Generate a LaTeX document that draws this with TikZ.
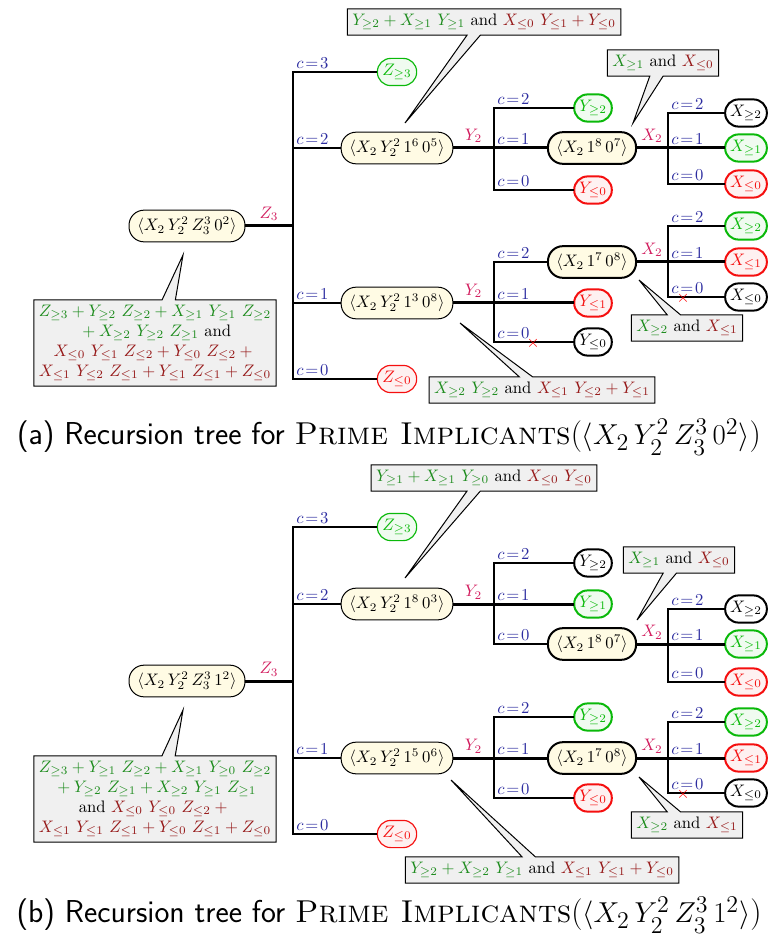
\documentclass[tikz,border=0pt]{standalone}
\usepackage{amsmath,amssymb}
\usepackage{tikz}
\usetikzlibrary{calc,shapes.callouts}

\definecolor{termyes}{RGB}{30,140,30}
\definecolor{termno}{RGB}{150,25,25}
\definecolor{leafyes}{RGB}{10,185,10}
\definecolor{leafno}{RGB}{245,15,15}
\definecolor{casecol}{RGB}{45,45,160}
\definecolor{varcol}{RGB}{210,30,95}
\definecolor{cream}{RGB}{255,251,228}

\newcommand{\ytrm}[1]{\textcolor{termyes}{$#1$}}
\newcommand{\ntrm}[1]{\textcolor{termno}{$#1$}}

\begin{document}
\begin{tikzpicture}[x=0.6pt,y=-0.6pt,
    every node/.style={outer sep=0pt},
    state/.style={draw,fill=cream,rounded corners=9pt,minimum height=19pt,inner xsep=5pt,line width=0.6pt},
    state2/.style={state,line width=1.2pt},
    leaf/.style={draw,fill=white,rounded corners=8pt,minimum height=16pt,inner xsep=3pt,line width=1.2pt},
    zleaf/.style={leaf,line width=0.7pt},
    ok/.style={draw=leafyes,fill=leafyes!6,text=leafyes},
    bad/.style={draw=leafno,fill=leafno!6,text=leafno},
    trunk/.style={line width=1.8pt},
    branch/.style={line width=1.2pt},
    clab/.style={anchor=south west,inner sep=2pt,text=casecol},
    vlab/.style={above,inner sep=3pt,text=varcol},
    note/.style={rectangle callout,draw,fill=gray!12,line width=0.6pt,inner sep=3pt,
                 callout pointer width=8pt,align=center},
    cut/.style={text=red,inner sep=0pt}]
\useasboundingbox (0,0) rectangle (779,942);

% (a) tree
\node[state] (ra) at (187,226) {$\langle X_2\,Y_2^2\,Z_3^3\,0^2\rangle$};
\node[zleaf,ok] (ra3) at (397,72) {$Z_{\geq 3}$};
\node[state] (ra2) at (397,148) {$\langle X_2\,Y_2^2\,1^6\,0^5\rangle$};
\node[state] (ra1) at (397,303) {$\langle X_2\,Y_2^2\,1^3\,0^8\rangle$};
\node[zleaf,bad] (ra0) at (397,379) {$Z_{\leq 0}$};
\node[leaf,ok] (ra22) at (593,108) {$Y_{\geq 2}$};
\node[state2] (ra21) at (592,148) {$\langle X_2\,1^8\,0^7\rangle$};
\node[leaf,bad] (ra20) at (593,190) {$Y_{\leq 0}$};
\node[leaf] (ra212) at (746,113) {$X_{\geq 2}$};
\node[leaf,ok] (ra211) at (746,148) {$X_{\geq 1}$};
\node[leaf,bad] (ra210) at (746,184) {$X_{\leq 0}$};
\node[state2] (ra12) at (592,262) {$\langle X_2\,1^7\,0^8\rangle$};
\node[leaf,bad] (ra11) at (593,303) {$Y_{\leq 1}$};
\node[leaf] (ra10) at (593,342) {$Y_{\leq 0}$};
\node[leaf,ok] (ra122) at (746,226) {$X_{\geq 2}$};
\node[leaf,bad] (ra121) at (746,262) {$X_{\leq 1}$};
\node[leaf] (ra120) at (746,297) {$X_{\leq 0}$};

\coordinate (ja) at (293,226);
\coordinate (ja2) at (494,148);
\coordinate (ja1) at (494,303);
\coordinate (ja21) at (668,148);
\coordinate (ja12) at (668,262);

\draw[trunk] (ra) -- node[vlab]{$Z_3$} (ja);
\foreach \n/\c in {ra3/3,ra2/2,ra1/1,ra0/0}
  \draw[branch] (ja) |- node[clab]{$c\!=\!\c$} (\n.west);
\draw[trunk] (ra2) -- node[vlab]{$Y_2$} (ja2) |- node[clab]{$c\!=\!1$} (ra21.west);
\draw[branch] (ja2) |- node[clab]{$c\!=\!2$} (ra22.west);
\draw[branch] (ja2) |- node[clab]{$c\!=\!0$} (ra20.west);
\draw[trunk] (ra21) -- node[vlab]{$X_2$} (ja21) |- node[clab]{$c\!=\!1$} (ra211.west);
\draw[branch] (ja21) |- node[clab]{$c\!=\!2$} (ra212.west);
\draw[branch] (ja21) |- node[clab]{$c\!=\!0$} (ra210.west);
\draw[trunk] (ra1) -- node[vlab]{$Y_2$} (ja1) |- node[clab]{$c\!=\!1$} (ra11.west);
\draw[branch] (ja1) |- node[clab]{$c\!=\!2$} (ra12.west);
\draw[branch] (ja1) |- node[clab]{$c\!=\!0$} (ra10.west);
\draw[trunk] (ra12) -- node[vlab]{$X_2$} (ja12) |- node[clab]{$c\!=\!1$} (ra121.west);
\draw[branch] (ja12) |- node[clab]{$c\!=\!2$} (ra122.west);
\draw[branch] (ja12) |- node[clab]{$c\!=\!0$} (ra120.west);
\node[cut] (xa10) at (533,343) {$\times$};
\node[cut] (xa120) at (683,298) {$\times$};

\node[note,callout absolute pointer={(405,123)}] (na2) at (484,22)
  {\ytrm{Y_{\geq 2} + X_{\geq 1}\ Y_{\geq 1}} and \ntrm{X_{\leq 0}\ Y_{\leq 1} + Y_{\leq 0}}};
\node[note,callout absolute pointer={(633,123)}] (na21) at (663,63)
  {\ytrm{X_{\geq 1}} and \ntrm{X_{\leq 0}}};
\node[note,callout absolute pointer={(183,255)}] (na) at (155,343)
  {\ytrm{Z_{\geq 3} + Y_{\geq 2}\ Z_{\geq 2} + X_{\geq 1}\ Y_{\geq 1}\ Z_{\geq 2}}\\
   \ytrm{{}+ X_{\geq 2}\ Y_{\geq 2}\ Z_{\geq 1}} and\\
   \ntrm{X_{\leq 0}\ Y_{\leq 1}\ Z_{\leq 2} + Y_{\leq 0}\ Z_{\leq 2} +{}}\\
   \ntrm{X_{\leq 1}\ Y_{\leq 2}\ Z_{\leq 1} + Y_{\leq 1}\ Z_{\leq 1} + Z_{\leq 0}}};
\node[note,callout absolute pointer={(639,280)}] (na12) at (687,328)
  {\ytrm{X_{\geq 2}} and \ntrm{X_{\leq 1}}};
\node[note,callout absolute pointer={(460,323)}] (na1) at (542,390)
  {\ytrm{X_{\geq 2}\ Y_{\geq 2}} and \ntrm{X_{\leq 1}\ Y_{\leq 2} + Y_{\leq 1}}};

\node (capa) at (389,437) {\fontsize{19}{22}\selectfont\sffamily (a) Recursion tree for
  \textnormal{\textsc{Prime Implicants}($\langle X_2\,Y_2^2\,Z_3^3\,0^2\rangle$)}};

% (b) tree
\node[state] (rb) at (187,681) {$\langle X_2\,Y_2^2\,Z_3^3\,1^2\rangle$};
\node[zleaf,ok] (rb3) at (397,527) {$Z_{\geq 3}$};
\node[state] (rb2) at (397,604) {$\langle X_2\,Y_2^2\,1^8\,0^3\rangle$};
\node[state] (rb1) at (397,758) {$\langle X_2\,Y_2^2\,1^5\,0^6\rangle$};
\node[zleaf,bad] (rb0) at (397,834) {$Z_{\leq 0}$};
\node[leaf] (rb22) at (593,563) {$Y_{\geq 2}$};
\node[leaf,ok] (rb21) at (593,604) {$Y_{\geq 1}$};
\node[state2] (rb20) at (592,644) {$\langle X_2\,1^8\,0^7\rangle$};
\node[leaf] (rb202) at (746,609) {$X_{\geq 2}$};
\node[leaf,ok] (rb201) at (746,644) {$X_{\geq 1}$};
\node[leaf,bad] (rb200) at (746,682) {$X_{\leq 0}$};
\node[leaf,ok] (rb12) at (593,717) {$Y_{\geq 2}$};
\node[state2] (rb11) at (592,758) {$\langle X_2\,1^7\,0^8\rangle$};
\node[leaf,bad] (rb10) at (593,798) {$Y_{\leq 0}$};
\node[leaf,ok] (rb112) at (746,722) {$X_{\geq 2}$};
\node[leaf,bad] (rb111) at (746,758) {$X_{\leq 1}$};
\node[leaf] (rb110) at (746,793) {$X_{\leq 0}$};

\coordinate (jb) at (293,681);
\coordinate (jb2) at (494,604);
\coordinate (jb1) at (494,758);
\coordinate (jb20) at (668,644);
\coordinate (jb11) at (668,758);

\draw[trunk] (rb) -- node[vlab]{$Z_3$} (jb);
\foreach \n/\c in {rb3/3,rb2/2,rb1/1,rb0/0}
  \draw[branch] (jb) |- node[clab]{$c\!=\!\c$} (\n.west);
\draw[trunk] (rb2) -- node[vlab]{$Y_2$} (jb2) |- node[clab]{$c\!=\!1$} (rb21.west);
\draw[branch] (jb2) |- node[clab]{$c\!=\!2$} (rb22.west);
\draw[branch] (jb2) |- node[clab]{$c\!=\!0$} (rb20.west);
\draw[trunk] (rb20) -- node[vlab]{$X_2$} (jb20) |- node[clab]{$c\!=\!1$} (rb201.west);
\draw[branch] (jb20) |- node[clab]{$c\!=\!2$} (rb202.west);
\draw[branch] (jb20) |- node[clab]{$c\!=\!0$} (rb200.west);
\draw[trunk] (rb1) -- node[vlab]{$Y_2$} (jb1) |- node[clab]{$c\!=\!1$} (rb11.west);
\draw[branch] (jb1) |- node[clab]{$c\!=\!2$} (rb12.west);
\draw[branch] (jb1) |- node[clab]{$c\!=\!0$} (rb10.west);
\draw[trunk] (rb11) -- node[vlab]{$X_2$} (jb11) |- node[clab]{$c\!=\!1$} (rb111.west);
\draw[branch] (jb11) |- node[clab]{$c\!=\!2$} (rb112.west);
\draw[branch] (jb11) |- node[clab]{$c\!=\!0$} (rb110.west);
\node[cut] (xb110) at (683,794) {$\times$};

\node[note,callout absolute pointer={(405,578)}] (nb2) at (484,478)
  {\ytrm{Y_{\geq 1} + X_{\geq 1}\ Y_{\geq 0}} and \ntrm{X_{\leq 0}\ Y_{\leq 0}}};
\node[note,callout absolute pointer={(637,620)}] (nb20) at (679,560)
  {\ytrm{X_{\geq 1}} and \ntrm{X_{\leq 0}}};
\node[note,callout absolute pointer={(183,710)}] (nb) at (155,799)
  {\ytrm{Z_{\geq 3} + Y_{\geq 1}\ Z_{\geq 2} + X_{\geq 1}\ Y_{\geq 0}\ Z_{\geq 2}}\\
   \ytrm{{}+ Y_{\geq 2}\ Z_{\geq 1} + X_{\geq 2}\ Y_{\geq 1}\ Z_{\geq 1}}\\
   and \ntrm{X_{\leq 0}\ Y_{\leq 0}\ Z_{\leq 2} +{}}\\
   \ntrm{X_{\leq 1}\ Y_{\leq 1}\ Z_{\leq 1} + Y_{\leq 0}\ Z_{\leq 1} + Z_{\leq 0}}};
\node[note,callout absolute pointer={(639,777)}] (nb11) at (687,825)
  {\ytrm{X_{\geq 2}} and \ntrm{X_{\leq 1}}};
\node[note,callout absolute pointer={(451,780)}] (nb1) at (542,870)
  {\ytrm{Y_{\geq 2} + X_{\geq 2}\ Y_{\geq 1}} and \ntrm{X_{\leq 1}\ Y_{\leq 1} + Y_{\leq 0}}};

\node (capb) at (389,915) {\fontsize{19}{22}\selectfont\sffamily (b) Recursion tree for
  \textnormal{\textsc{Prime Implicants}($\langle X_2\,Y_2^2\,Z_3^3\,1^2\rangle$)}};
\end{tikzpicture}
\end{document}
